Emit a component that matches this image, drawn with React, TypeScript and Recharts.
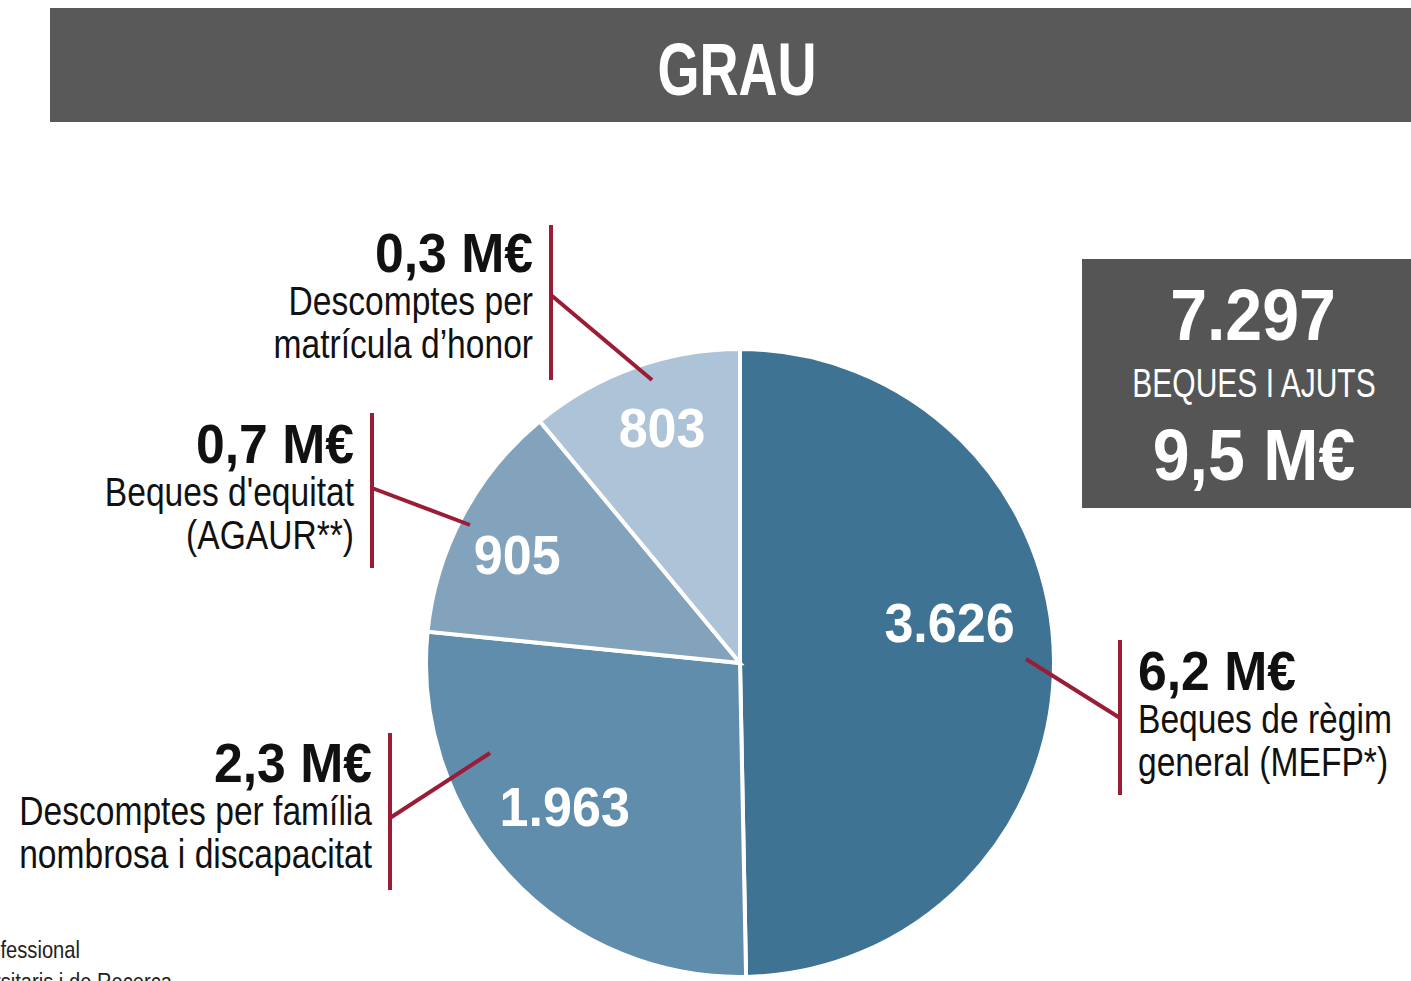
import React from 'react';
import { PieChart, Pie, Cell } from 'recharts';

const categories = [
  'Beques de règim general (MEFP*)',
  'Descomptes per família nombrosa i discapacitat',
  "Beques d'equitat (AGAUR**)",
  'Descomptes per matrícula d\u2019honor',
];
const counts = [3626, 1963, 905, 803];
const countLabels = ['3.626', '1.963', '905', '803'];
const amounts = ['6,2 M€', '2,3 M€', '0,7 M€', '0,3 M€'];
const descLines = [
  ['Beques de règim', 'general (MEFP*)'],
  ['Descomptes per família', 'nombrosa i discapacitat'],
  ["Beques d'equitat", '(AGAUR**)'],
  ['Descomptes per', 'matrícula d\u2019honor'],
];
const totalCount = '7.297';
const totalLabel = 'BEQUES I AJUTS';
const totalAmount = '9,5 M€';
const title = 'GRAU';
const footnotes = ["*Ministeri d'Educació i Formació Professional", "**Agència de Gestió d'Ajuts Universitaris i de Recerca"];

const colors = ['#3f7393', '#5f8dab', '#83a3bc', '#adc4d8'];
const RED = '#9a1c36';
const FONT = "'Liberation Sans', Arial, sans-serif";

const data = categories.map((name, i) => ({ name, value: counts[i], label: countLabels[i] }));

// label placement inside slices (radius fraction, angle offset in degrees)
const labelRadius = [0.68, 0.72, 0.79, 0.79];
const labelAngleOffset = [10.5, -3.5, 2, -1.5];

// callout layout
const callouts = [
  { side: 'right', barX: 1120, top: 640, bottom: 795, joinY: 718, endX: 1026, endY: 659, textX: 1138, base: 690 },
  { side: 'left', barX: 390, top: 733, bottom: 890, joinY: 818, endX: 490, endY: 753, textX: 372, base: 782 },
  { side: 'left', barX: 372, top: 413, bottom: 568, joinY: 488, endX: 470, endY: 525, textX: 354, base: 463 },
  { side: 'left', barX: 551, top: 225, bottom: 380, joinY: 295, endX: 652, endY: 380, textX: 533, base: 272 },
];

const RAD = Math.PI / 180;

type TProps = {
  x: number;
  y: number;
  sx: number;
  size: number;
  weight?: number;
  anchor?: 'start' | 'middle' | 'end';
  fill: string;
  children: React.ReactNode;
};

const T = ({ x, y, sx, size, weight = 400, anchor = 'start', fill, children }: TProps) => (
  <text
    transform={`translate(${x},${y}) scale(${sx},1)`}
    x={0}
    y={0}
    textAnchor={anchor}
    fill={fill}
    fontFamily={FONT}
    fontWeight={weight}
    fontSize={size}
  >
    {children}
  </text>
);

const renderLabel = (props: any) => {
  const { cx, cy, midAngle, outerRadius, index } = props;
  const a = (midAngle + labelAngleOffset[index]) * RAD;
  const r = outerRadius * labelRadius[index];
  const x = cx + r * Math.cos(a);
  const y = cy - r * Math.sin(a);
  return (
    <T x={x} y={y + 20} sx={0.93} size={56} weight={700} anchor="middle" fill="#ffffff">
      {data[index].label}
    </T>
  );
};

export default function App() {
  return (
    <div style={{ position: 'absolute', left: 0, top: 0, width: 1411, height: 981, overflow: 'hidden', background: '#ffffff' }}>
      <div style={{ position: 'absolute', left: 0, top: 0 }}>
        <PieChart width={1411} height={981} margin={{ top: 0, right: 0, bottom: 0, left: 0 }}>
          <Pie
            data={data}
            dataKey="value"
            nameKey="name"
            cx={740}
            cy={663}
            outerRadius={314}
            startAngle={90}
            endAngle={-270}
            stroke="#ffffff"
            strokeWidth={4}
            label={renderLabel}
            labelLine={false}
            isAnimationActive={false}
          >
            {data.map((d, i) => (
              <Cell key={d.name} fill={colors[i]} />
            ))}
          </Pie>
        </PieChart>
      </div>
      <svg width={1411} height={981} style={{ position: 'absolute', left: 0, top: 0, pointerEvents: 'none' }}>
        <rect x={50} y={8} width={1361} height={114} fill="#595959" />
        <T x={737} y={95} sx={0.73} size={74} weight={700} anchor="middle" fill="#ffffff">
          {title}
        </T>
        <rect x={1082} y={259} width={329} height={249} fill="#555555" />
        <T x={1253} y={340} sx={0.92} size={72} weight={700} anchor="middle" fill="#ffffff">
          {totalCount}
        </T>
        <T x={1254} y={397} sx={0.75} size={40} anchor="middle" fill="#ffffff">
          {totalLabel}
        </T>
        <T x={1254} y={480} sx={0.92} size={72} weight={700} anchor="middle" fill="#ffffff">
          {totalAmount}
        </T>
        {callouts.map((c, i) => {
          const anchor = c.side === 'left' ? 'end' : 'start';
          return (
            <g key={i}>
              <line x1={c.barX} y1={c.top} x2={c.barX} y2={c.bottom} stroke={RED} strokeWidth={4} />
              <line x1={c.barX} y1={c.joinY} x2={c.endX} y2={c.endY} stroke={RED} strokeWidth={4} />
              <T x={c.textX} y={c.base} sx={0.94} size={55} weight={700} anchor={anchor} fill="#111111">
                {amounts[i]}
              </T>
              {descLines[i].map((t, j) => (
                <T key={j} x={c.textX} y={c.base + 43 + j * 43} sx={0.84} size={40} anchor={anchor} fill="#111111">
                  {t}
                </T>
              ))}
            </g>
          );
        })}
        <T x={80} y={958} sx={0.84} size={24} anchor="end" fill="#222222">
          {footnotes[0]}
        </T>
        <T x={172} y={990} sx={0.84} size={24} anchor="end" fill="#222222">
          {footnotes[1]}
        </T>
      </svg>
    </div>
  );
}
